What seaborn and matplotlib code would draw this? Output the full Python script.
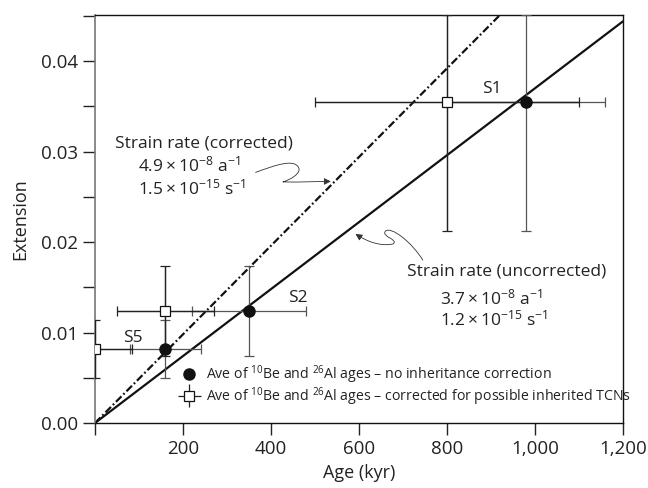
import numpy as np
import pandas as pd
import seaborn as sns
import matplotlib.pyplot as plt
from matplotlib.lines import Line2D
from matplotlib.path import Path
from matplotlib.patches import FancyArrowPatch
from matplotlib.container import ErrorbarContainer
from matplotlib.legend_handler import HandlerErrorbar
from matplotlib.ticker import FixedLocator, FuncFormatter

# Sample data (age in kyr)
samples = ['S1', 'S2', 'S5']
uncorr_age = [980, 350, 160]
uncorr_age_err = [180, 130, 80]
corr_age = [800, 160, 0]
corr_age_err = [300, 110, 85]
extension = [0.0355, 0.0124, 0.0082]
ext_err_low = [0.0143, 0.0050, 0.0032]
ext_err_high = [0.0096, 0.0050, 0.0032]

# Strain rates (per kyr)
rate_uncorr = 3.7e-5
rate_corr = 4.9e-5
line_age = [0, 1200]

sns.set_style("ticks")
plt.rcParams['font.family'] = ['Open Sans', 'DejaVu Sans']
plt.rcParams['mathtext.fontset'] = 'custom'
plt.rcParams['mathtext.rm'] = 'Open Sans'
plt.rcParams['mathtext.it'] = 'Open Sans:italic'
plt.rcParams['text.color'] = '#222222'
plt.rcParams['axes.labelcolor'] = '#222222'
plt.rcParams['xtick.color'] = '#222222'
plt.rcParams['ytick.color'] = '#222222'

fig = plt.figure(figsize=(6.48, 4.88), dpi=100)
ax = fig.add_axes([0.1466, 0.1332, 0.8148, 0.8361])

lines_df = pd.DataFrame({
    'age': line_age * 2,
    'ext': [a * rate_uncorr for a in line_age] + [a * rate_corr for a in line_age],
    'kind': ['uncorrected'] * 2 + ['corrected'] * 2,
})
sns.lineplot(data=lines_df[lines_df.kind == 'uncorrected'], x='age', y='ext',
             ax=ax, color='#111111', lw=1.6, zorder=2)
sns.lineplot(data=lines_df[lines_df.kind == 'corrected'], x='age', y='ext',
             ax=ax, color='#111111', lw=1.6, zorder=2)
ax.lines[-1].set_dashes((3.5, 1.2, 0.8, 1.2))

# Error bars
ax.errorbar(uncorr_age, extension, xerr=uncorr_age_err,
            yerr=[ext_err_low, ext_err_high], fmt='none', ecolor='#555555',
            elinewidth=0.9, capsize=3.6, capthick=0.9, zorder=3)
ax.errorbar(corr_age, extension, xerr=corr_age_err,
            yerr=[ext_err_low, ext_err_high], fmt='none', ecolor='#222222',
            elinewidth=0.9, capsize=3.6, capthick=0.9, zorder=4)
# same bars again without caps, with the square markers (used as legend handle)
sq = ax.errorbar(corr_age, extension, xerr=corr_age_err,
                 yerr=[ext_err_low, ext_err_high], fmt='s', ms=7,
                 mfc='white', mec='#111111', mew=0.9, ecolor='#222222',
                 elinewidth=0.9, capsize=0, zorder=4)
ax.plot(uncorr_age, extension, 'o', color='#111111', ms=8, zorder=5)

# Sample labels
label_pos = {'S1': (902, 0.0369), 'S2': (461, 0.0138), 'S5': (87, 0.0094)}
for s in samples:
    ax.text(*label_pos[s], s, fontsize=12.5, ha='center', va='center')

# Strain rate annotations
ax.text(45, 0.0309, 'Strain rate (corrected)', fontsize=12.5, va='center')
ax.text(98, 0.0285, r'$4.9\times10^{-8}$ a$^{-1}$', fontsize=12.5, va='center')
ax.text(98, 0.0259, r'$1.5\times10^{-15}$ s$^{-1}$', fontsize=12.5, va='center')
ax.text(709, 0.0167, 'Strain rate (uncorrected)', fontsize=12.5, va='center')
ax.text(784, 0.0138, r'$3.7\times10^{-8}$ a$^{-1}$', fontsize=12.5, va='center')
ax.text(784, 0.0114, r'$1.2\times10^{-15}$ s$^{-1}$', fontsize=12.5, va='center')

C4 = Path.CURVE4
arrow_corr = Path([(365, 0.0277), (410, 0.0285), (450, 0.0292), (462, 0.0283),
                   (472, 0.0276), (440, 0.0268), (427, 0.02665),
                   (470, 0.0266), (500, 0.0267), (536, 0.0267)],
                  [Path.MOVETO, C4, C4, C4, C4, C4, C4, C4, C4, C4])
arrow_unc = Path([(745, 0.0180), (720, 0.0200), (672, 0.0218), (660, 0.0212),
                  (650, 0.0206), (690, 0.0203), (678, 0.0198),
                  (650, 0.0195), (620, 0.0200), (592, 0.0209)],
                 [Path.MOVETO, C4, C4, C4, C4, C4, C4, C4, C4, C4])
for p in (arrow_corr, arrow_unc):
    ax.add_patch(FancyArrowPatch(path=p, arrowstyle='-|>', mutation_scale=10,
                                 lw=0.6, color='#333333', zorder=6))

# Legend
circ = Line2D([], [], marker='o', ls='none', color='#111111', ms=8)
leg = ax.legend([circ, sq],
                [r'Ave of $^{10}$Be and $^{26}$Al ages – no inheritance correction',
                 r'Ave of $^{10}$Be and $^{26}$Al ages – corrected for possible inherited TCNs'],
                handler_map={ErrorbarContainer: HandlerErrorbar(xerr_size=0.8)},
                loc='lower left', bbox_to_anchor=(0.137, 0.01), frameon=False,
                fontsize=10.2, handlelength=1.5, handletextpad=0.45,
                labelspacing=-0.05, borderpad=0.3)

ax.set_xlim(0, 1200)
ax.set_ylim(0, 0.0451)
ax.xaxis.set_major_locator(FixedLocator([0, 200, 400, 600, 800, 1000, 1200]))
ax.xaxis.set_major_formatter(FuncFormatter(lambda v, p: '' if v == 0 else f'{v:,.0f}'))
ax.yaxis.set_major_locator(FixedLocator([i * 0.005 for i in range(10)]))
ax.yaxis.set_major_formatter(FuncFormatter(
    lambda v, p: f'{v:.2f}' if round(v / 0.005) % 2 == 0 else ''))
ax.tick_params(direction='out', length=8.5, width=1, labelsize=13.5, pad=4)

ax.set_xlabel('Age (kyr)', fontsize=13, labelpad=4)
ax.set_ylabel('Extension', fontsize=13, labelpad=8)

for side in ['top', 'right', 'bottom']:
    ax.spines[side].set_color('#111111')
    ax.spines[side].set_linewidth(1.0)
ax.spines['left'].set_color('#777777')
ax.spines['left'].set_linewidth(1.2)

fig.savefig('out.png', dpi=100)
